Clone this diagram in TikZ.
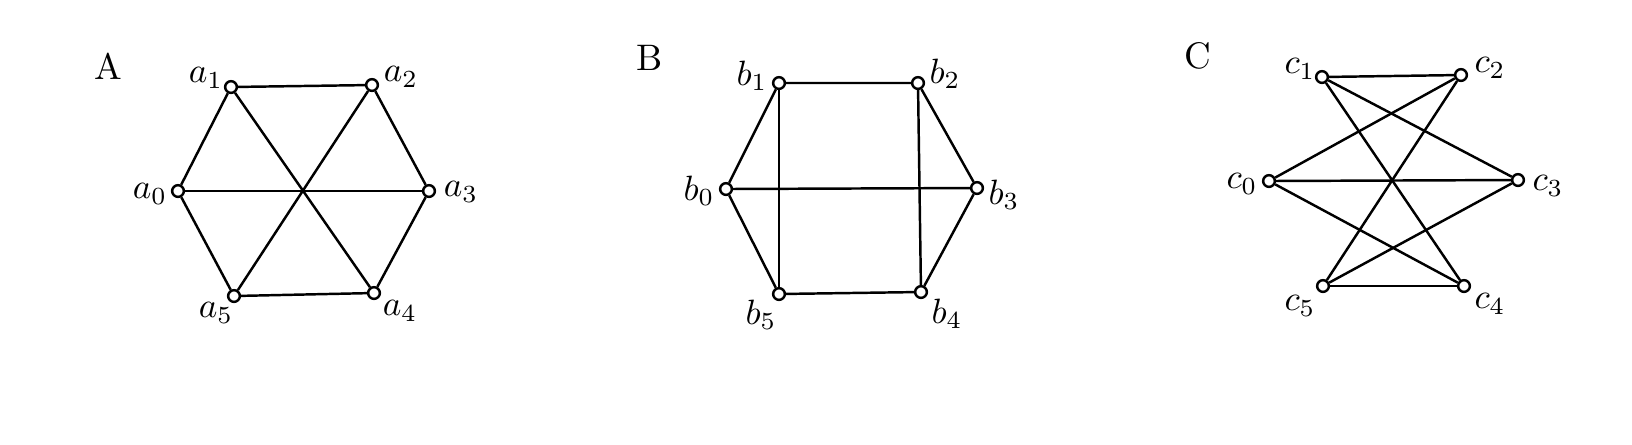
\documentclass[tikz,border=0pt]{standalone}
\usepackage{amsmath}

\begin{document}
\begin{tikzpicture}[
  x=0.01cm, y=-0.01cm,
  vertex/.style={draw, circle, fill=white, inner sep=0pt, minimum size=0.117cm, line width=0.7pt},
  edge/.style={draw, line width=0.7pt},
  lbl/.style={inner sep=0pt, font=\fontsize{10}{12}\selectfont},
  graphname/.style={font=\fontsize{10.5}{12}\selectfont},
]
\useasboundingbox (0,0) rectangle (1632,444);

% --- Graph A: Sechseck mit drei langen Diagonalen ---
\node[graphname] (nameA) at (108,66) {A};
\node[vertex] (a0) at (178,191) {};
\node[vertex] (a1) at (231,87) {};
\node[vertex] (a2) at (372,85) {};
\node[vertex] (a3) at (429,191) {};
\node[vertex] (a4) at (374,293) {};
\node[vertex] (a5) at (234,296) {};
\node[lbl] (la0) at (150,194) {$a_0$};
\node[lbl] (la1) at (206,78)  {$a_1$};
\node[lbl] (la2) at (401,77)  {$a_2$};
\node[lbl] (la3) at (461,192) {$a_3$};
\node[lbl] (la4) at (400,311) {$a_4$};
\node[lbl] (la5) at (216,313) {$a_5$};
\draw[edge] (a0) -- (a1) -- (a2) -- (a3) -- (a4) -- (a5) -- (a0);
\draw[edge] (a0) -- (a3);
\draw[edge] (a1) -- (a4);
\draw[edge] (a2) -- (a5);

% --- Graph B: Sechseck mit Quer- und Senkrechten ---
\node[graphname] (nameB) at (650,58) {B};
\node[vertex] (b0) at (726,189) {};
\node[vertex] (b1) at (779,83) {};
\node[vertex] (b2) at (918,83) {};
\node[vertex] (b3) at (977,188) {};
\node[vertex] (b4) at (921,292) {};
\node[vertex] (b5) at (779,294) {};
\node[lbl] (lb0) at (699,191) {$b_0$};
\node[lbl] (lb1) at (752,76)  {$b_1$};
\node[lbl] (lb2) at (945,74)  {$b_2$};
\node[lbl] (lb3) at (1004,195) {$b_3$};
\node[lbl] (lb4) at (947,314) {$b_4$};
\node[lbl] (lb5) at (761,315) {$b_5$};
\draw[edge] (b0) -- (b1) -- (b2) -- (b3) -- (b4) -- (b5) -- (b0);
\draw[edge] (b0) -- (b3);
\draw[edge] (b1) -- (b5);
\draw[edge] (b2) -- (b4);

% --- Graph C: ueberkreuzte Variante ---
\node[graphname] (nameC) at (1198,56) {C};
\node[vertex] (c0) at (1269,181) {};
\node[vertex] (c1) at (1322,77) {};
\node[vertex] (c2) at (1461,75) {};
\node[vertex] (c3) at (1518,180) {};
\node[vertex] (c4) at (1464,286) {};
\node[vertex] (c5) at (1323,286) {};
\node[lbl] (lc0) at (1242,184) {$c_0$};
\node[lbl] (lc1) at (1300,69)  {$c_1$};
\node[lbl] (lc2) at (1490,68)  {$c_2$};
\node[lbl] (lc3) at (1548,186) {$c_3$};
\node[lbl] (lc4) at (1490,304) {$c_4$};
\node[lbl] (lc5) at (1300,306) {$c_5$};
\draw[edge] (c1) -- (c2);
\draw[edge] (c5) -- (c4);
\draw[edge] (c0) -- (c3);
\draw[edge] (c1) -- (c3);
\draw[edge] (c1) -- (c4);
\draw[edge] (c2) -- (c0);
\draw[edge] (c2) -- (c5);
\draw[edge] (c0) -- (c4);
\draw[edge] (c5) -- (c3);

\end{tikzpicture}
\end{document}
